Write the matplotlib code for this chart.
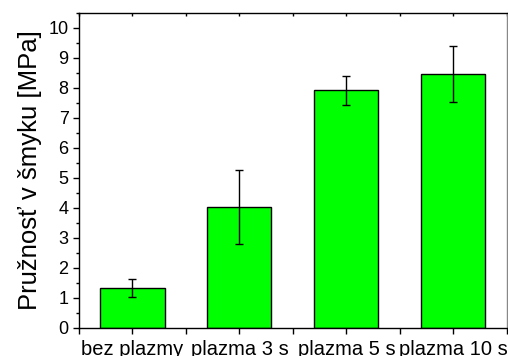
import numpy as np
import matplotlib.pyplot as plt
from matplotlib.ticker import MultipleLocator

plt.rcParams['font.family'] = ['Liberation Sans', 'DejaVu Sans']

labels = ['bez plazmy', 'plazma 3 s', 'plazma 5 s', 'plazma 10 s']
values = [1.33, 4.03, 7.92, 8.46]
errors = [0.29, 1.24, 0.48, 0.94]

fig = plt.figure(figsize=(5.08, 3.56), dpi=100)
ax = fig.add_axes([0.1555, 0.0787, 0.842, 0.885])

x = np.arange(len(labels))
ax.bar(x, values, width=0.6, color='#00ff00', edgecolor='black', linewidth=1.0, zorder=2)
ax.errorbar(x, values, yerr=errors, fmt='none', ecolor='black', elinewidth=1.0,
            capsize=3, capthick=1.0, zorder=3)

ax.set_xlim(-0.5, 3.5)
ax.set_ylim(0, 10.5)
ax.set_xticks(x)
ax.set_xticklabels(labels)
ax.xaxis.set_minor_locator(MultipleLocator(1, offset=0.5))
ax.yaxis.set_major_locator(MultipleLocator(1))
ax.yaxis.set_minor_locator(MultipleLocator(0.5))
ax.tick_params(axis='both', which='major', direction='out', length=4, width=1, labelsize=13)
ax.tick_params(axis='x', labelsize=14.5, pad=5)
ax.tick_params(axis='both', which='minor', direction='out', length=2.5, width=1)
ax.tick_params(axis='x', which='both', top=True)
ax.set_ylabel('Pružnosť v šmyku [MPa]', fontsize=18.5, labelpad=5)

for s in ax.spines.values():
    s.set_linewidth(1.0)
ax.spines['right'].set_color('#888888')

# top ticks point inward, bottom ticks outward
for t in ax.xaxis.get_major_ticks() + ax.xaxis.get_minor_ticks():
    t.tick2line.set_marker(3)
    t.tick2line.set_markersize(2)
    t.tick2line.set_color('#aaaaaa')
    t.tick1line.set_marker(3)
    t.tick1line.set_markersize(4)

fig.savefig('out.png', dpi=100)
